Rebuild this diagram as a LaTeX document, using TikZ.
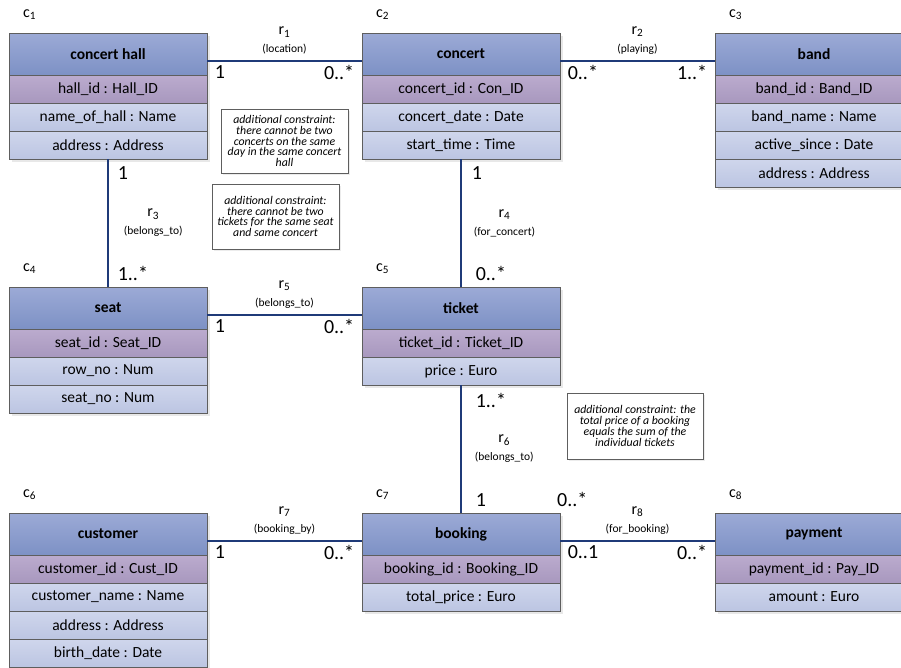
\documentclass[tikz,border=0pt]{standalone}
\usepackage{fontspec}
\setmainfont{Carlito}
\usetikzlibrary{positioning}
\usetikzlibrary{shadows}
\definecolor{hdrtop}{HTML}{9CAAD6}
\definecolor{hdrbot}{HTML}{7D91C5}
\definecolor{keytop}{HTML}{BBABCE}
\definecolor{keybot}{HTML}{A898BE}
\definecolor{atttop}{HTML}{CFD6EC}
\definecolor{attbot}{HTML}{BCC5E2}
\definecolor{boxline}{HTML}{5E5E5E}
\definecolor{relline}{HTML}{1F3A78}
\tikzset{node distance=155pt,
    box/.style={
        draw=boxline,
        line width=0.8pt,
        minimum width=198pt,
        inner sep=0pt,
        outer sep=0pt,
        font=\fontsize{15.5}{18}\selectfont,
        drop shadow={opacity=0.18, shadow xshift=2.5pt, shadow yshift=-2.5pt}},
    hdr/.style={box,
        minimum height=42pt,
        top color=hdrtop, bottom color=hdrbot,
        font=\fontsize{15.5}{18}\selectfont\bfseries},
    keyrow/.style={box,
        minimum height=28pt,
        top color=keytop, bottom color=keybot},
    attrow/.style={box,
        minimum height=28pt,
        top color=atttop, bottom color=attbot},
    rel/.style={
        draw=relline,
        line width=1.6pt},
    mult/.style={
        font=\fontsize{20}{22}\selectfont,
        inner sep=0pt},
    rlab/.style={
        align=center,
        inner sep=0pt,
        font=\fontsize{11.5}{12}\selectfont},
    clab/.style={
        inner sep=0pt,
        font=\fontsize{16}{18}\selectfont},
    note/.style={
        draw=boxline,
        fill=white,
        line width=0.8pt,
        align=center,
        inner sep=2pt,
        font=\fontsize{11.8}{10.8}\selectfont\itshape,
        drop shadow={opacity=0.15, shadow xshift=2pt, shadow yshift=-2pt}}}

\begin{document}
\begin{tikzpicture}[x=1pt, y=-1pt]
        \useasboundingbox (0,0) rectangle (901,667);
        \clip (0,0) rectangle (901,667);

        \node[hdr, anchor=north west] (c1) at (9,33) {concert hall};
        \node[keyrow, below=0pt of c1] (c1a) {hall\_id : Hall\_ID};
        \node[attrow, below=0pt of c1a] (c1b) {name\_of\_hall : Name};
        \node[attrow, below=0pt of c1b] (c1c) {address : Address};

        \node[hdr, right=of c1] (c2) {concert};
        \node[keyrow, below=0pt of c2] (c2a) {concert\_id : Con\_ID};
        \node[attrow, below=0pt of c2a] (c2b) {concert\_date : Date};
        \node[attrow, below=0pt of c2b] (c2c) {start\_time : Time};

        \node[hdr, right=of c2] (c3) {band};
        \node[keyrow, below=0pt of c3] (c3a) {band\_id : Band\_ID};
        \node[attrow, below=0pt of c3a] (c3b) {band\_name : Name};
        \node[attrow, below=0pt of c3b] (c3c) {active\_since : Date};
        \node[attrow, below=0pt of c3c] (c3d) {address : Address};

        \node[hdr, below=128pt of c1c] (c4) {seat};
        \node[keyrow, below=0pt of c4] (c4a) {seat\_id : Seat\_ID};
        \node[attrow, below=0pt of c4a] (c4b) {row\_no : Num};
        \node[attrow, below=0pt of c4b] (c4c) {seat\_no : Num};

        \node[hdr, right=of c4] (c5) {ticket};
        \node[keyrow, below=0pt of c5] (c5a) {ticket\_id : Ticket\_ID};
        \node[attrow, below=0pt of c5a] (c5b) {price : Euro};

        \node[hdr, below=100pt of c4c] (c6) {customer};
        \node[keyrow, below=0pt of c6] (c6a) {customer\_id : Cust\_ID};
        \node[attrow, below=0pt of c6a] (c6b) {customer\_name : Name};
        \node[attrow, below=0pt of c6b] (c6c) {address : Address};
        \node[attrow, below=0pt of c6c] (c6d) {birth\_date : Date};

        \node[hdr, right=of c6] (c7) {booking};
        \node[keyrow, below=0pt of c7] (c7a) {booking\_id : Booking\_ID};
        \node[attrow, below=0pt of c7a] (c7b) {total\_price : Euro};

        \node[hdr, right=of c7] (c8) {payment};
        \node[keyrow, below=0pt of c8] (c8a) {payment\_id : Pay\_ID};
        \node[attrow, below=0pt of c8a] (c8b) {amount : Euro};

        \node[clab, above right=13pt and 14pt of c1.north west] (l1) {c\textsubscript{1}};
        \node[clab, above right=13pt and 14pt of c2.north west] (l2) {c\textsubscript{2}};
        \node[clab, above right=13pt and 14pt of c3.north west] (l3) {c\textsubscript{3}};
        \node[clab, above right=13pt and 14pt of c4.north west] (l4) {c\textsubscript{4}};
        \node[clab, above right=13pt and 14pt of c5.north west] (l5) {c\textsubscript{5}};
        \node[clab, above right=13pt and 14pt of c6.north west] (l6) {c\textsubscript{6}};
        \node[clab, above right=13pt and 14pt of c7.north west] (l7) {c\textsubscript{7}};
        \node[clab, above right=13pt and 14pt of c8.north west] (l8) {c\textsubscript{8}};

        \draw[rel] (c1.-4) -- node[rlab, above=6pt] {{\fontsize{16}{17}\selectfont r\textsubscript{1}}\\[6pt](location)}
            node[mult, pos=0, below right=4pt and 7pt] {1}
            node[mult, pos=1, below left=4pt and 7pt] {0..*} (c2.184);
        \draw[rel] (c2.-4) -- node[rlab, above=6pt] {{\fontsize{16}{17}\selectfont r\textsubscript{2}}\\[6pt](playing)}
            node[mult, pos=0, below right=4pt and 7pt] {0..*}
            node[mult, pos=1, below left=4pt and 7pt] {1..*} (c3.184);
        \draw[rel] (c1c.south) -- node[rlab, right=15pt] {{\fontsize{16}{17}\selectfont r\textsubscript{3}}\\[6pt](belongs\_to)}
            node[mult, pos=0, below right=7pt and 9pt] {1}
            node[mult, pos=1, above right=6pt and 9pt] {1..*} (c4.north);
        \draw[rel] (c2c.south) -- node[rlab, right=12pt] {{\fontsize{16}{17}\selectfont r\textsubscript{4}}\\[6pt](for\_concert)}
            node[mult, pos=0, below right=7pt and 10pt] {1}
            node[mult, pos=1, above right=6pt and 14pt] {0..*} (c5.north);
        \draw[rel] (c4.-4) -- node[rlab, above=6pt] {{\fontsize{16}{17}\selectfont r\textsubscript{5}}\\[6pt](belongs\_to)}
            node[mult, pos=0, below right=4pt and 7pt] {1}
            node[mult, pos=1, below left=4pt and 7pt] {0..*} (c5.184);
        \draw[rel] (c5b.south) -- node[rlab, right=13pt] {{\fontsize{16}{17}\selectfont r\textsubscript{6}}\\[6pt](belongs\_to)}
            node[mult, pos=0, below right=7pt and 14pt] {1..*}
            node[mult, pos=1, above right=6pt and 14pt] {1} (c7.north);
        \draw[rel] (c6.-4) -- node[rlab, above=6pt] {{\fontsize{16}{17}\selectfont r\textsubscript{7}}\\[6pt](booking\_by)}
            node[mult, pos=0, below right=4pt and 7pt] {1}
            node[mult, pos=1, below left=4pt and 7pt] {0..*} (c7.184);
        \draw[rel] (c7.-4) -- node[rlab, above=6pt] {{\fontsize{16}{17}\selectfont r\textsubscript{8}}\\[6pt](for\_booking)}
            node[mult, pos=0, below right=4pt and 7pt] {0..1}
            node[mult, pos=1, below left=4pt and 7pt] {0..*} (c8.184);
        \node[mult, above right=6pt and -3pt of c7.north east] (m0) {0..*};

        \node[note, minimum width=127pt, minimum height=64pt] (n1) at (284.5,141)
            {additional constraint:\\there cannot be two\\concerts on the same\\day in the same concert\\hall};
        \node[note, minimum width=127pt, minimum height=65pt] (n2) at (275.5,216.5)
            {additional constraint:\\there cannot be two\\tickets for the same seat\\and same concert};
        \node[note, minimum width=136pt, minimum height=66pt] (n3) at (635,426)
            {additional constraint: the\\total price of a booking\\equals the sum of the\\individual tickets};
    \end{tikzpicture}
\end{document}
